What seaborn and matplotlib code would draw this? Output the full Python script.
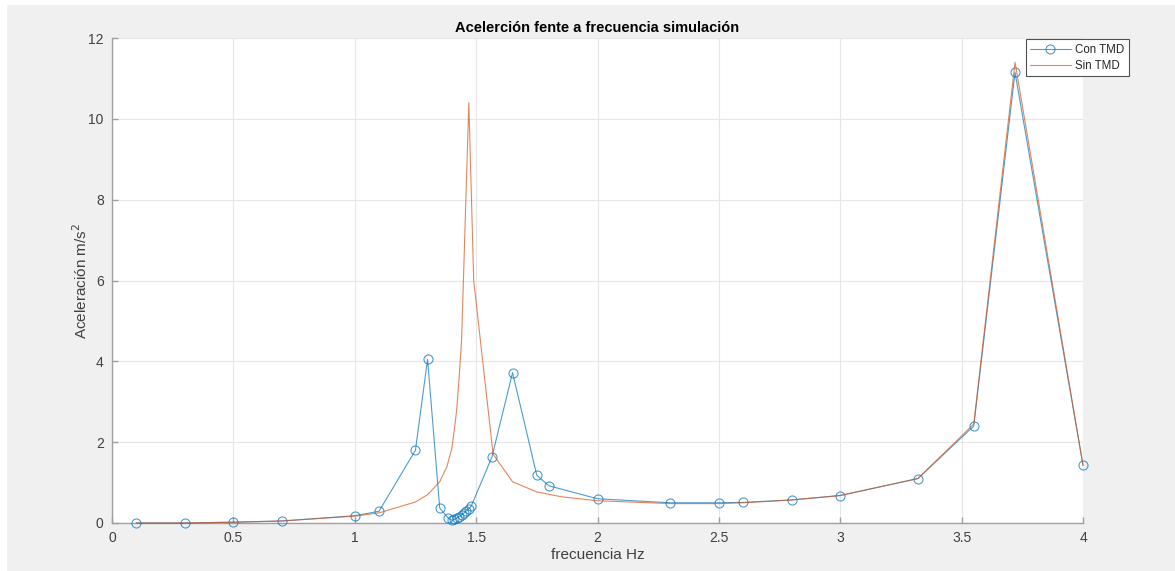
import numpy as np
import pandas as pd
import matplotlib
matplotlib.use("Agg")
import matplotlib.pyplot as plt
from matplotlib.patches import Rectangle
import seaborn as sns

# --- data ---
freq_con = [0.1, 0.3, 0.5, 0.7, 1.0, 1.1, 1.25, 1.3, 1.35, 1.385, 1.40, 1.41, 1.42, 1.43,
            1.44, 1.45, 1.46, 1.47, 1.48, 1.565, 1.65, 1.75, 1.8, 2.0, 2.3, 2.5, 2.6, 2.8,
            3.0, 3.32, 3.55, 3.72, 4.0]
acc_con = [0.0, 0.0, 0.02, 0.05, 0.18, 0.29, 1.8, 4.05, 0.37, 0.12, 0.07, 0.09, 0.12, 0.16,
           0.2, 0.25, 0.3, 0.35, 0.42, 1.63, 3.72, 1.18, 0.92, 0.6, 0.5, 0.5, 0.51, 0.57,
           0.68, 1.1, 2.4, 11.15, 1.43]

freq_sin = [0.1, 0.3, 0.5, 0.7, 1.0, 1.1, 1.25, 1.3, 1.35, 1.38, 1.40, 1.41, 1.42, 1.43,
            1.44, 1.47, 1.49, 1.57, 1.65, 1.75, 1.85, 2.0, 2.3, 2.5, 2.6, 2.8, 3.0, 3.32,
            3.55, 3.72, 4.0]
acc_sin = [0.0, 0.0, 0.02, 0.05, 0.17, 0.25, 0.52, 0.7, 1.02, 1.4, 1.85, 2.3, 2.8, 3.6,
           4.5, 10.4, 6.0, 1.7, 1.02, 0.77, 0.65, 0.55, 0.48, 0.48, 0.5, 0.57, 0.68, 1.1,
           2.45, 11.4, 1.43]

x_ticks = [0, 0.5, 1, 1.5, 2, 2.5, 3, 3.5, 4]
y_ticks = [0, 2, 4, 6, 8, 10, 12]

title = "Acelerción fente a frecuencia simulación"
xlabel = "frecuencia Hz"
ylabel = "Aceleración m/s$^2$"

sns.set_theme(style="whitegrid")
plt.rcParams["font.family"] = ["Liberation Sans", "DejaVu Sans"]

W, H = 1175, 571
fig = plt.figure(figsize=(W / 100, H / 100), dpi=100, facecolor="white")
# grey panel, leaving thin white strips on the left and top edges
fig.patches.append(Rectangle((7 / W, -0.01), 1.02, 1.01 - 5 / H, transform=fig.transFigure,
                             facecolor="#f0f0f0", edgecolor="none", zorder=-10))

ax = fig.add_axes([112 / W, 1 - 523 / H, (1083 - 112) / W, (523 - 38) / H])
ax.set_zorder(1)
ax.set_facecolor("white")

blue = "#0072BD"
orange = "#D95319"

df_con = pd.DataFrame({"f": freq_con, "a": acc_con})
df_sin = pd.DataFrame({"f": freq_sin, "a": acc_sin})

sns.lineplot(data=df_con, x="f", y="a", ax=ax, sort=False, color=blue, linewidth=0.8,
             marker="o", markersize=6.5, markerfacecolor="none", markeredgecolor=blue,
             markeredgewidth=0.8, label="Con TMD", alpha=0.7, clip_on=False, zorder=3)
sns.lineplot(data=df_sin, x="f", y="a", ax=ax, sort=False, color=orange, linewidth=0.8,
             label="Sin TMD", alpha=0.7, clip_on=False, zorder=3)

ax.set_xlim(0, 4)
ax.set_ylim(0, 12)
ax.set_xticks(x_ticks)
ax.set_xticklabels([f"{t:g}" for t in x_ticks])
ax.set_yticks(y_ticks)
ax.set_yticklabels([str(t) for t in y_ticks])
ax.grid(True, color="#e6e6e6", linewidth=0.8)
for s in ["top", "right"]:
    ax.spines[s].set_visible(False)
for s in ["left", "bottom"]:
    ax.spines[s].set_visible(True)
    ax.spines[s].set_color("#a0a0a0")
    ax.spines[s].set_linewidth(1.0)
ax.tick_params(axis="both", direction="in", length=4, width=1.0, colors="#a0a0a0",
               labelsize=10, labelcolor="#404040", pad=6)
ax.tick_params(axis="both", which="both", bottom=True, left=True)

ax.set_title(title, fontsize=10.5, fontweight="bold", color="black", pad=4)
ax.set_xlabel(xlabel, fontsize=11, color="#404040", labelpad=2)
ax.set_ylabel(ylabel, fontsize=11, color="#404040", labelpad=-1)

leg = ax.legend(loc="upper right", bbox_to_anchor=(1129 / W, 1 - 39 / H),
                bbox_transform=fig.transFigure, frameon=True, fontsize=8.3,
                fancybox=False, framealpha=1, edgecolor="#505050",
                handlelength=3.5, handletextpad=0.4, borderpad=0.4,
                labelspacing=0.35, borderaxespad=0)
leg.get_frame().set_linewidth(0.8)
for t in leg.get_texts():
    t.set_color("#262626")

fig.savefig("out.png", dpi=100, facecolor=fig.get_facecolor())
